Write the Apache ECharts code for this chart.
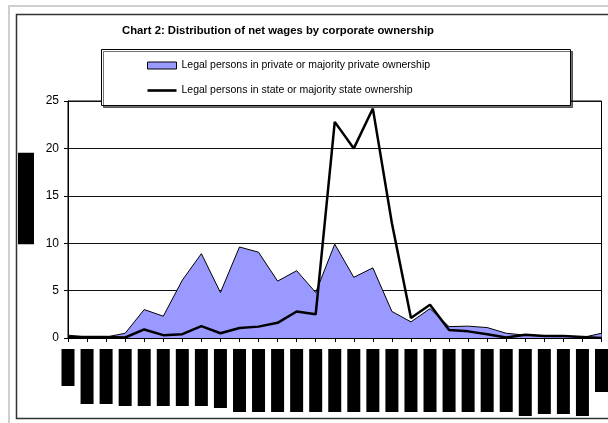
<!DOCTYPE html>
<html>
<head>
<meta charset="utf-8">
<script src="https://cdn.jsdelivr.net/npm/echarts@6/dist/echarts.min.js"></script>
<style>
html, body { margin: 0; padding: 0; background: #fff; }
#main { width: 608px; height: 423px; }
</style>
</head>
<body>
<div id="main"></div>
<script>
// net wage bands (category axis)
var wageBands = ['< 2000', '2001-3000', '3001-4000', '4001-5000', '5001-6000', '6001-7000',
	'7001-8000', '8001-9000', '9001-10000', '10001-11000', '11001-12000', '12001-13000',
	'13001-14000', '14001-15000', '15001-16000', '16001-17000', '17001-18000', '18001-19000',
	'19001-20000', '20001-22000', '22001-24000', '24001-26000', '26001-28000', '28001-30000',
	'30001-35000', '35001-40000', '40001-50000', '50001-60000', '> 60000'];

// share of employees, %
var privateShare = [0.3, 0.1, 0.1, 0.5, 3.0, 2.3, 6.1, 8.9, 4.8, 9.6, 9.05, 6.0, 7.1, 4.8,
	9.9, 6.4, 7.4, 2.8, 1.7, 3.1, 1.2, 1.25, 1.1, 0.5, 0.3, 0.2, 0.2, 0.05, 0.5];
var stateShare = [0.1, 0.1, 0.1, 0.05, 0.9, 0.3, 0.4, 1.25, 0.5, 1.05, 1.2, 1.6, 2.8, 2.5,
	22.8, 20.0, 24.2, 12.1, 2.1, 3.5, 0.85, 0.7, 0.4, 0.05, 0.35, 0.2, 0.2, 0.1, 0.0];

var yMax = 25;
var yStep = 5;

var privateName = 'Legal persons in private or majority private ownership';
var stateName = 'Legal persons in state or majority state ownership';

// length of the (blacked out) label boxes under the axis
var labelBox = [37, 55, 55, 57, 57, 57, 57, 57, 59, 63, 63, 63, 63, 63, 63, 63, 63, 63, 63,
	63, 63, 63, 63, 63, 67, 65, 65, 67, 43];

var font = '"Liberation Sans", Arial, sans-serif';

var rich = {};
labelBox.forEach(function (w) {
	rich['b' + w] = {
		width: w,
		height: 13,
		lineHeight: 13,
		fontSize: 10,
		color: '#000',
		backgroundColor: '#000'
	};
});

var myChart = echarts.init(document.getElementById('main'));

myChart.setOption({
	animation: false,
	backgroundColor: '#fff',

	title: {
		text: 'Chart 2: Distribution of net wages by corporate ownership',
		left: 122,
		top: 25,
		padding: 0,
		textStyle: {
			fontFamily: font,
			fontSize: 11.3,
			fontWeight: 'bold',
			color: '#000'
		}
	},

	legend: {
		orient: 'vertical',
		left: 147,
		top: 60,
		padding: 0,
		itemGap: 14,
		itemWidth: 29,
		itemHeight: 7,
		z: 5,
		textStyle: {
			fontFamily: font,
			fontSize: 10.5,
			color: '#000'
		},
		data: [
			{ name: privateName, icon: 'rect', itemStyle: { color: '#9999ff', borderColor: '#000', borderWidth: 1 } },
			{ name: stateName, icon: 'path://M0,0h100v9h-100z', itemStyle: { color: '#000' } }
		]
	},

	grid: {
		left: 68,
		right: 6,
		top: 101,
		bottom: 85,
		show: true,
		borderColor: '#000',
		borderWidth: 1,
		backgroundColor: 'transparent'
	},

	xAxis: {
		type: 'category',
		boundaryGap: false,
		data: wageBands,
		axisLine: { lineStyle: { color: '#000', width: 1 } },
		axisTick: { show: true, interval: 0, length: 4, lineStyle: { color: '#000' } },
		axisLabel: {
			interval: 0,
			rotate: 90,
			margin: 11,
			formatter: function (v, i) {
				return '{b' + labelBox[i] + '|' + v + '}';
			},
			rich: rich
		},
		splitLine: { show: false }
	},

	yAxis: {
		type: 'value',
		min: 0,
		max: yMax,
		interval: yStep,
		axisLine: { show: true, lineStyle: { color: '#000', width: 1 } },
		axisTick: { show: true, length: 4, lineStyle: { color: '#000' } },
		axisLabel: {
			margin: 9,
			fontFamily: font,
			fontSize: 12,
			color: '#000'
		},
		splitLine: { lineStyle: { color: '#111', width: 1 } }
	},

	series: [
		{
			name: privateName,
			type: 'line',
			data: privateShare,
			symbol: 'none',
			z: 2,
			lineStyle: { color: '#000', width: 1 },
			itemStyle: { color: '#9999ff', borderColor: '#000', borderWidth: 1 },
			areaStyle: { color: '#9999ff', opacity: 1 }
		},
		{
			name: stateName,
			type: 'line',
			data: stateShare,
			symbol: 'none',
			z: 3,
			lineStyle: { color: '#000', width: 2.5 },
			itemStyle: { color: '#000' }
		}
	],

	graphic: [
		{
			type: 'rect',
			silent: true,
			z: -10,
			shape: { x: 9, y: 6, width: 640, height: 440 },
			style: { fill: 'none', stroke: '#cfcfcf', lineWidth: 2 }
		},
		{
			type: 'rect',
			silent: true,
			z: -9,
			shape: { x: 16.5, y: 14.5, width: 640, height: 404 },
			style: { fill: 'none', stroke: '#333', lineWidth: 1.5 }
		},
		{
			type: 'rect',
			silent: true,
			z: 4,
			shape: { x: 101.5, y: 49.5, width: 469, height: 56 },
			style: {
				fill: '#fff',
				stroke: '#000',
				lineWidth: 1,
				shadowColor: 'rgba(0,0,0,0.55)',
				shadowOffsetX: 2,
				shadowOffsetY: 2,
				shadowBlur: 0
			}
		},
		{
			type: 'text',
			silent: true,
			z: 5,
			x: 26,
			y: 198.5,
			rotation: Math.PI / 2,
			style: {
				text: 'Percentage (%)',
				font: '12px ' + font,
				fill: '#000',
				align: 'center',
				verticalAlign: 'middle',
				backgroundColor: '#000',
				padding: [2, 4]
			}
		}
	]
});
</script>
</body>
</html>
